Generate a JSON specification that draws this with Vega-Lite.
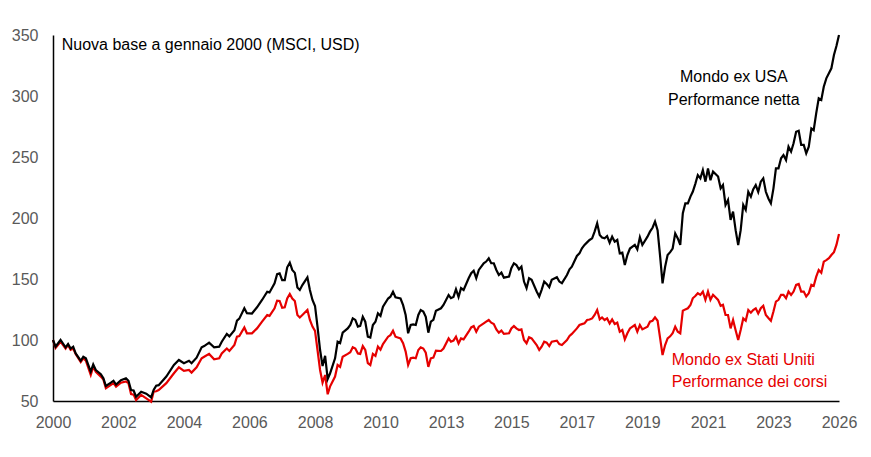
{
  "$schema": "https://vega.github.io/schema/vega-lite/v6.json",
  "width": 786,
  "height": 366,
  "autosize": "none",
  "padding": {"left": 53, "top": 35, "right": 32, "bottom": 56},
  "background": "white",
  "datasets": {
    "idx": [
      {"d": "2000-01-01", "n": 100, "p": 100},
      {"d": "2000-02-01", "n": 94.5, "p": 93.5},
      {"d": "2000-04-01", "n": 100, "p": 98.6},
      {"d": "2000-06-01", "n": 94, "p": 93},
      {"d": "2000-07-01", "n": 96.7, "p": 96},
      {"d": "2000-08-01", "n": 93, "p": 92},
      {"d": "2000-09-01", "n": 94.5, "p": 93},
      {"d": "2000-10-01", "n": 89, "p": 88.6},
      {"d": "2000-12-01", "n": 83, "p": 82},
      {"d": "2001-01-01", "n": 86.3, "p": 85},
      {"d": "2001-02-01", "n": 85, "p": 83},
      {"d": "2001-04-01", "n": 74, "p": 71.3},
      {"d": "2001-05-01", "n": 80, "p": 78},
      {"d": "2001-06-01", "n": 75.4, "p": 74},
      {"d": "2001-08-01", "n": 72, "p": 70},
      {"d": "2001-09-01", "n": 68.6, "p": 67.5},
      {"d": "2001-10-01", "n": 62.3, "p": 60.4},
      {"d": "2001-12-01", "n": 65, "p": 63.2},
      {"d": "2002-01-01", "n": 66.6, "p": 64.6},
      {"d": "2002-02-01", "n": 63.5, "p": 61.8},
      {"d": "2002-04-01", "n": 67, "p": 65},
      {"d": "2002-06-01", "n": 68.6, "p": 66},
      {"d": "2002-07-01", "n": 66.6, "p": 64.6},
      {"d": "2002-08-01", "n": 59, "p": 55.7},
      {"d": "2002-09-01", "n": 58.6, "p": 55.2},
      {"d": "2002-10-01", "n": 53.5, "p": 50.8},
      {"d": "2002-12-01", "n": 57.6, "p": 55},
      {"d": "2003-02-01", "n": 56, "p": 52.2},
      {"d": "2003-04-01", "n": 53, "p": 49.5},
      {"d": "2003-05-01", "n": 59, "p": 57.6},
      {"d": "2003-06-01", "n": 62.5, "p": 58},
      {"d": "2003-07-01", "n": 63, "p": 59},
      {"d": "2003-10-01", "n": 70, "p": 64.6},
      {"d": "2004-01-01", "n": 79.5, "p": 72.7},
      {"d": "2004-03-01", "n": 83.6, "p": 77.6},
      {"d": "2004-05-01", "n": 81, "p": 74.7},
      {"d": "2004-07-01", "n": 83, "p": 75.4},
      {"d": "2004-08-01", "n": 81, "p": 73.3},
      {"d": "2004-10-01", "n": 85.5, "p": 77.6},
      {"d": "2004-12-01", "n": 94, "p": 85},
      {"d": "2005-01-01", "n": 95, "p": 86.3},
      {"d": "2005-03-01", "n": 97.8, "p": 88.6},
      {"d": "2005-05-01", "n": 94, "p": 84.2},
      {"d": "2005-07-01", "n": 94.5, "p": 85},
      {"d": "2005-08-01", "n": 98.6, "p": 89},
      {"d": "2005-10-01", "n": 105, "p": 93},
      {"d": "2005-11-01", "n": 103, "p": 91},
      {"d": "2006-01-01", "n": 108, "p": 96},
      {"d": "2006-02-01", "n": 115.8, "p": 102.7},
      {"d": "2006-03-01", "n": 117.5, "p": 103.2},
      {"d": "2006-05-01", "n": 126, "p": 110.3},
      {"d": "2006-06-01", "n": 122, "p": 105.5},
      {"d": "2006-08-01", "n": 121.7, "p": 105.5},
      {"d": "2006-10-01", "n": 126.8, "p": 109.5},
      {"d": "2006-12-01", "n": 132.8, "p": 115},
      {"d": "2007-02-01", "n": 139.6, "p": 120.5},
      {"d": "2007-03-01", "n": 139, "p": 119.8},
      {"d": "2007-05-01", "n": 146.4, "p": 126},
      {"d": "2007-06-01", "n": 154, "p": 132.2},
      {"d": "2007-07-01", "n": 154.6, "p": 132},
      {"d": "2007-08-01", "n": 149, "p": 126.5},
      {"d": "2007-09-01", "n": 149, "p": 126.8},
      {"d": "2007-10-01", "n": 159.6, "p": 134},
      {"d": "2007-11-01", "n": 163.4, "p": 137.7},
      {"d": "2007-12-01", "n": 157.4, "p": 134},
      {"d": "2008-01-01", "n": 155, "p": 132},
      {"d": "2008-02-01", "n": 143, "p": 120.5},
      {"d": "2008-03-01", "n": 141, "p": 118.5},
      {"d": "2008-04-01", "n": 145, "p": 120.5},
      {"d": "2008-06-01", "n": 151.4, "p": 124.6},
      {"d": "2008-07-01", "n": 141, "p": 116.4},
      {"d": "2008-08-01", "n": 132.8, "p": 111},
      {"d": "2008-09-01", "n": 127.9, "p": 107.5},
      {"d": "2008-10-01", "n": 111, "p": 91.8},
      {"d": "2008-11-01", "n": 91.8, "p": 75.4},
      {"d": "2008-12-01", "n": 78.7, "p": 65},
      {"d": "2009-01-01", "n": 87, "p": 71.3},
      {"d": "2009-02-01", "n": 68, "p": 55.5},
      {"d": "2009-03-01", "n": 72.5, "p": 61.8},
      {"d": "2009-05-01", "n": 85, "p": 70},
      {"d": "2009-06-01", "n": 98.6, "p": 79.5},
      {"d": "2009-07-01", "n": 97.5, "p": 78},
      {"d": "2009-08-01", "n": 106, "p": 86.3},
      {"d": "2009-10-01", "n": 109.5, "p": 88.6},
      {"d": "2009-11-01", "n": 112.3, "p": 90},
      {"d": "2009-12-01", "n": 117.8, "p": 94},
      {"d": "2010-01-01", "n": 116.5, "p": 93},
      {"d": "2010-02-01", "n": 111, "p": 89},
      {"d": "2010-03-01", "n": 111.5, "p": 88.6},
      {"d": "2010-04-01", "n": 119, "p": 95},
      {"d": "2010-05-01", "n": 115, "p": 91.8},
      {"d": "2010-06-01", "n": 102.7, "p": 81},
      {"d": "2010-07-01", "n": 102, "p": 79.5},
      {"d": "2010-08-01", "n": 112.3, "p": 88.6},
      {"d": "2010-09-01", "n": 115, "p": 87},
      {"d": "2010-10-01", "n": 121.8, "p": 94.6},
      {"d": "2010-11-01", "n": 119.8, "p": 92},
      {"d": "2010-12-01", "n": 127.3, "p": 96.7},
      {"d": "2011-02-01", "n": 134, "p": 102.7},
      {"d": "2011-03-01", "n": 135.5, "p": 104},
      {"d": "2011-04-01", "n": 139.6, "p": 107.6},
      {"d": "2011-05-01", "n": 135, "p": 102.7},
      {"d": "2011-07-01", "n": 134, "p": 101.3},
      {"d": "2011-08-01", "n": 128.6, "p": 97.3},
      {"d": "2011-09-01", "n": 120.5, "p": 90.5},
      {"d": "2011-10-01", "n": 105.5, "p": 79.5},
      {"d": "2011-11-01", "n": 112.3, "p": 85},
      {"d": "2011-12-01", "n": 112.8, "p": 85.5},
      {"d": "2012-01-01", "n": 112.3, "p": 85},
      {"d": "2012-02-01", "n": 120.5, "p": 91.8},
      {"d": "2012-03-01", "n": 124.6, "p": 94},
      {"d": "2012-04-01", "n": 123.3, "p": 93},
      {"d": "2012-05-01", "n": 119, "p": 89.6},
      {"d": "2012-06-01", "n": 106, "p": 78},
      {"d": "2012-07-01", "n": 115, "p": 85},
      {"d": "2012-08-01", "n": 116.5, "p": 85.5},
      {"d": "2012-09-01", "n": 124, "p": 91.2},
      {"d": "2012-11-01", "n": 126, "p": 91},
      {"d": "2012-12-01", "n": 128.7, "p": 93},
      {"d": "2013-02-01", "n": 136.9, "p": 101.3},
      {"d": "2013-03-01", "n": 134.3, "p": 98.6},
      {"d": "2013-04-01", "n": 135.3, "p": 99.5},
      {"d": "2013-05-01", "n": 141.6, "p": 102.7},
      {"d": "2013-06-01", "n": 135.3, "p": 97.2},
      {"d": "2013-07-01", "n": 142.5, "p": 101.3},
      {"d": "2013-08-01", "n": 141, "p": 100.5},
      {"d": "2013-10-01", "n": 150.6, "p": 106.8},
      {"d": "2013-11-01", "n": 154.7, "p": 110.3},
      {"d": "2013-12-01", "n": 156.8, "p": 111.4},
      {"d": "2014-01-01", "n": 150.6, "p": 106.8},
      {"d": "2014-02-01", "n": 157.4, "p": 110.9},
      {"d": "2014-04-01", "n": 162.9, "p": 113.6},
      {"d": "2014-05-01", "n": 164.3, "p": 115},
      {"d": "2014-06-01", "n": 167, "p": 116.4},
      {"d": "2014-07-01", "n": 162.9, "p": 114.2},
      {"d": "2014-08-01", "n": 162.9, "p": 113.1},
      {"d": "2014-09-01", "n": 157.4, "p": 108.7},
      {"d": "2014-10-01", "n": 153.3, "p": 106},
      {"d": "2014-11-01", "n": 155.2, "p": 107.7},
      {"d": "2014-12-01", "n": 151.1, "p": 105},
      {"d": "2015-02-01", "n": 152, "p": 105.5},
      {"d": "2015-03-01", "n": 158.8, "p": 109.5},
      {"d": "2015-04-01", "n": 162.9, "p": 111.4},
      {"d": "2015-05-01", "n": 161.5, "p": 109.5},
      {"d": "2015-06-01", "n": 157.9, "p": 108.2},
      {"d": "2015-07-01", "n": 160.1, "p": 108.7},
      {"d": "2015-08-01", "n": 147.9, "p": 100},
      {"d": "2015-09-01", "n": 142.5, "p": 97.3},
      {"d": "2015-10-01", "n": 150.6, "p": 102.2},
      {"d": "2015-11-01", "n": 149.3, "p": 101.3},
      {"d": "2016-01-01", "n": 139.8, "p": 95.9},
      {"d": "2016-02-01", "n": 135.7, "p": 91.8},
      {"d": "2016-03-01", "n": 141.1, "p": 94.5},
      {"d": "2016-04-01", "n": 147.9, "p": 98.6},
      {"d": "2016-05-01", "n": 146, "p": 97.8},
      {"d": "2016-06-01", "n": 143.3, "p": 95},
      {"d": "2016-07-01", "n": 149.3, "p": 98.6},
      {"d": "2016-09-01", "n": 151.4, "p": 99.5},
      {"d": "2016-10-01", "n": 147.9, "p": 96.7},
      {"d": "2016-11-01", "n": 146.6, "p": 95.9},
      {"d": "2017-01-01", "n": 153.3, "p": 100},
      {"d": "2017-02-01", "n": 157.9, "p": 103.3},
      {"d": "2017-03-01", "n": 160.1, "p": 105},
      {"d": "2017-05-01", "n": 168.9, "p": 109.5},
      {"d": "2017-06-01", "n": 171, "p": 112.3},
      {"d": "2017-07-01", "n": 175.1, "p": 113},
      {"d": "2017-08-01", "n": 177.9, "p": 113.6},
      {"d": "2017-09-01", "n": 180, "p": 116.4},
      {"d": "2017-10-01", "n": 182, "p": 116.8},
      {"d": "2017-11-01", "n": 183.3, "p": 117.7},
      {"d": "2017-12-01", "n": 188.8, "p": 120.5},
      {"d": "2018-01-01", "n": 195.6, "p": 124.6},
      {"d": "2018-02-01", "n": 186, "p": 116.9},
      {"d": "2018-03-01", "n": 184, "p": 118.5},
      {"d": "2018-04-01", "n": 183.3, "p": 116.4},
      {"d": "2018-05-01", "n": 185.2, "p": 117.7},
      {"d": "2018-06-01", "n": 179.7, "p": 113.6},
      {"d": "2018-07-01", "n": 184.7, "p": 116.9},
      {"d": "2018-08-01", "n": 180.6, "p": 113.1},
      {"d": "2018-09-01", "n": 182, "p": 114.2},
      {"d": "2018-10-01", "n": 171, "p": 106.8},
      {"d": "2018-11-01", "n": 171.6, "p": 108.2},
      {"d": "2018-12-01", "n": 161.5, "p": 100.5},
      {"d": "2019-01-01", "n": 169.6, "p": 105.5},
      {"d": "2019-02-01", "n": 175, "p": 109.5},
      {"d": "2019-04-01", "n": 177.9, "p": 112.3},
      {"d": "2019-05-01", "n": 174.3, "p": 106.8},
      {"d": "2019-06-01", "n": 184.2, "p": 112.3},
      {"d": "2019-07-01", "n": 177.9, "p": 108.7},
      {"d": "2019-09-01", "n": 184.7, "p": 110.9},
      {"d": "2019-10-01", "n": 188.8, "p": 115},
      {"d": "2019-11-01", "n": 192, "p": 115.8},
      {"d": "2019-12-01", "n": 197, "p": 118.5},
      {"d": "2020-01-01", "n": 190, "p": 115.8},
      {"d": "2020-02-01", "n": 168.3, "p": 101.3},
      {"d": "2020-03-01", "n": 146.4, "p": 87.7},
      {"d": "2020-04-01", "n": 160, "p": 95.9},
      {"d": "2020-05-01", "n": 169.6, "p": 101.3},
      {"d": "2020-06-01", "n": 172, "p": 103},
      {"d": "2020-07-01", "n": 175, "p": 105.5},
      {"d": "2020-08-01", "n": 187.4, "p": 110.9},
      {"d": "2020-09-01", "n": 183.3, "p": 106.8},
      {"d": "2020-10-01", "n": 177.9, "p": 105.5},
      {"d": "2020-11-01", "n": 204, "p": 124},
      {"d": "2020-12-01", "n": 212, "p": 125.1},
      {"d": "2021-01-01", "n": 212, "p": 126},
      {"d": "2021-02-01", "n": 217.5, "p": 128.7},
      {"d": "2021-03-01", "n": 221.5, "p": 134.2},
      {"d": "2021-04-01", "n": 228, "p": 136},
      {"d": "2021-05-01", "n": 235.2, "p": 138.3},
      {"d": "2021-06-01", "n": 232.5, "p": 137},
      {"d": "2021-07-01", "n": 239.3, "p": 139.7},
      {"d": "2021-08-01", "n": 229.8, "p": 132.9},
      {"d": "2021-09-01", "n": 240.6, "p": 139.7},
      {"d": "2021-10-01", "n": 231, "p": 132.9},
      {"d": "2021-11-01", "n": 238, "p": 137},
      {"d": "2021-12-01", "n": 236, "p": 135},
      {"d": "2022-01-01", "n": 234, "p": 132.9},
      {"d": "2022-02-01", "n": 224.3, "p": 128},
      {"d": "2022-03-01", "n": 227, "p": 128.8},
      {"d": "2022-04-01", "n": 210.7, "p": 120.5},
      {"d": "2022-05-01", "n": 214.8, "p": 120.5},
      {"d": "2022-06-01", "n": 198.4, "p": 109.5},
      {"d": "2022-07-01", "n": 205.2, "p": 116.4},
      {"d": "2022-08-01", "n": 190, "p": 108},
      {"d": "2022-09-01", "n": 177.9, "p": 100},
      {"d": "2022-10-01", "n": 190, "p": 108.2},
      {"d": "2022-11-01", "n": 210.7, "p": 117.7},
      {"d": "2022-12-01", "n": 206.6, "p": 115.8},
      {"d": "2023-01-01", "n": 221.5, "p": 124.6},
      {"d": "2023-02-01", "n": 217.5, "p": 122.4},
      {"d": "2023-03-01", "n": 223.4, "p": 124.6},
      {"d": "2023-04-01", "n": 227, "p": 126},
      {"d": "2023-05-01", "n": 221.5, "p": 121.8},
      {"d": "2023-06-01", "n": 229.8, "p": 126},
      {"d": "2023-07-01", "n": 232.5, "p": 128},
      {"d": "2023-08-01", "n": 221.5, "p": 120.5},
      {"d": "2023-09-01", "n": 216, "p": 118},
      {"d": "2023-10-01", "n": 212, "p": 115.8},
      {"d": "2023-11-01", "n": 224.3, "p": 123.3},
      {"d": "2023-12-01", "n": 240.7, "p": 131.5},
      {"d": "2024-01-01", "n": 240.7, "p": 132.9},
      {"d": "2024-02-01", "n": 248.9, "p": 137},
      {"d": "2024-03-01", "n": 251.6, "p": 137},
      {"d": "2024-04-01", "n": 247.5, "p": 134.2},
      {"d": "2024-05-01", "n": 258.5, "p": 139.7},
      {"d": "2024-06-01", "n": 254.4, "p": 137},
      {"d": "2024-07-01", "n": 261.2, "p": 139.7},
      {"d": "2024-08-01", "n": 270.7, "p": 145.2},
      {"d": "2024-09-01", "n": 271.5, "p": 146},
      {"d": "2024-10-01", "n": 259.9, "p": 139.7},
      {"d": "2024-11-01", "n": 259.9, "p": 139.7},
      {"d": "2024-12-01", "n": 253, "p": 135.6},
      {"d": "2025-01-01", "n": 258.5, "p": 138.3},
      {"d": "2025-02-01", "n": 273.4, "p": 145.2},
      {"d": "2025-03-01", "n": 272, "p": 144.3},
      {"d": "2025-04-01", "n": 286, "p": 151.9},
      {"d": "2025-05-01", "n": 298.1, "p": 157.4},
      {"d": "2025-06-01", "n": 296.7, "p": 155.2},
      {"d": "2025-07-01", "n": 307.6, "p": 164.2},
      {"d": "2025-08-01", "n": 314.5, "p": 165.5},
      {"d": "2025-09-01", "n": 318.6, "p": 167},
      {"d": "2025-10-01", "n": 322.7, "p": 169.7},
      {"d": "2025-11-01", "n": 333.6, "p": 172},
      {"d": "2025-12-01", "n": 341, "p": 177.9},
      {"d": "2026-01-01", "n": 350, "p": 186.9}
    ],
    "one": [{}]
  },
  "layer": [
    {
      "data": {"name": "idx"},
      "mark": {"type": "line", "color": "#e60000", "strokeWidth": 2.2},
      "encoding": {
        "x": {
          "field": "d",
          "type": "temporal",
          "title": null,
          "scale": {
            "type": "utc",
            "nice": false,
            "domain": [
              {"year": 2000, "month": 1, "date": 1, "utc": true},
              {"year": 2026, "month": 1, "date": 1, "utc": true}
            ]
          },
          "axis": {
            "labelExpr": "utcFormat(datum.value, '%Y')",
            "values": [
              {"year": 2000, "month": 1, "date": 1, "utc": true},
              {"year": 2002, "month": 3, "date": 1, "utc": true},
              {"year": 2004, "month": 5, "date": 1, "utc": true},
              {"year": 2006, "month": 7, "date": 1, "utc": true},
              {"year": 2008, "month": 9, "date": 1, "utc": true},
              {"year": 2010, "month": 11, "date": 1, "utc": true},
              {"year": 2013, "month": 1, "date": 1, "utc": true},
              {"year": 2015, "month": 3, "date": 1, "utc": true},
              {"year": 2017, "month": 5, "date": 1, "utc": true},
              {"year": 2019, "month": 7, "date": 1, "utc": true},
              {"year": 2021, "month": 9, "date": 1, "utc": true},
              {"year": 2023, "month": 11, "date": 1, "utc": true},
              {"year": 2026, "month": 1, "date": 1, "utc": true}
            ],
            "labelPadding": 13,
            "labelFlush": false,
            "labelOverlap": false
          }
        },
        "y": {
          "field": "p",
          "type": "quantitative",
          "title": null,
          "scale": {"domain": [50, 350], "nice": false, "zero": false},
          "axis": {"values": [50, 100, 150, 200, 250, 300, 350], "labelPadding": 15}
        }
      }
    },
    {
      "data": {"name": "idx"},
      "mark": {"type": "line", "color": "#000000", "strokeWidth": 2.2},
      "encoding": {
        "x": {"field": "d", "type": "temporal"},
        "y": {"field": "n", "type": "quantitative"}
      }
    },
    {
      "data": {"name": "one"},
      "mark": {"type": "text", "align": "left", "baseline": "middle", "fontSize": 16, "color": "#000000"},
      "encoding": {
        "x": {"datum": {"year": 2000, "month": 4, "date": 15, "utc": true}, "type": "temporal"},
        "y": {"datum": 342},
        "text": {"value": "Nuova base a gennaio 2000 (MSCI, USD)"}
      }
    },
    {
      "data": {"name": "one"},
      "mark": {"type": "text", "align": "center", "baseline": "middle", "fontSize": 16, "color": "#000000"},
      "encoding": {
        "x": {"datum": {"year": 2022, "month": 7, "date": 10, "utc": true}, "type": "temporal"},
        "y": {"datum": 315.6},
        "text": {"value": "Mondo ex USA"}
      }
    },
    {
      "data": {"name": "one"},
      "mark": {"type": "text", "align": "center", "baseline": "middle", "fontSize": 16, "color": "#000000"},
      "encoding": {
        "x": {"datum": {"year": 2022, "month": 7, "date": 10, "utc": true}, "type": "temporal"},
        "y": {"datum": 296.7},
        "text": {"value": "Performance netta"}
      }
    },
    {
      "data": {"name": "one"},
      "mark": {"type": "text", "align": "left", "baseline": "middle", "fontSize": 16, "color": "#e60000"},
      "encoding": {
        "x": {"datum": {"year": 2020, "month": 6, "date": 20, "utc": true}, "type": "temporal"},
        "y": {"datum": 83.6},
        "text": {"value": "Mondo ex Stati Uniti"}
      }
    },
    {
      "data": {"name": "one"},
      "mark": {"type": "text", "align": "left", "baseline": "middle", "fontSize": 16, "color": "#e60000"},
      "encoding": {
        "x": {"datum": {"year": 2020, "month": 6, "date": 20, "utc": true}, "type": "temporal"},
        "y": {"datum": 65.6},
        "text": {"value": "Performance dei corsi"}
      }
    }
  ],
  "config": {
    "font": "Liberation Sans",
    "view": {"stroke": null},
    "axis": {
      "grid": false,
      "ticks": false,
      "domainColor": "#000000",
      "domainWidth": 1.5,
      "labelColor": "#595959",
      "labelFontSize": 16,
      "labelFont": "Liberation Sans"
    },
    "text": {"font": "Liberation Sans"}
  }
}
